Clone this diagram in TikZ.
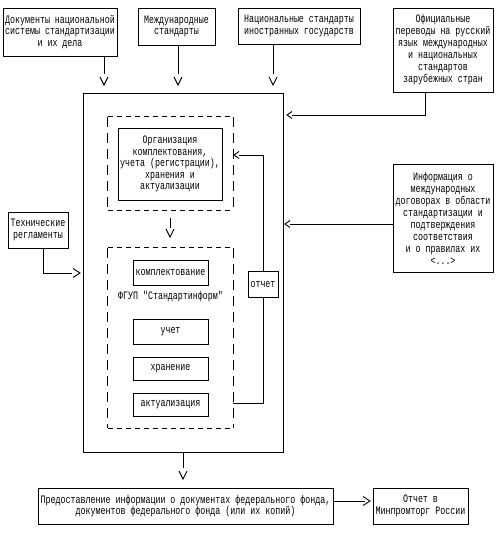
\documentclass[tikz,border=0pt]{standalone}
\usepackage{fontspec}
\newfontfamily\px{Liberation Mono}[FakeStretch=0.73]
\begin{document}
\begin{tikzpicture}[x=1pt,y=-1pt,
  ln/.style={line width=0.9pt},
  box/.style={draw, line width=0.9pt, inner sep=0pt, align=center,
    font=\px\fontsize{11.4}{11.5}\selectfont},
  box12/.style={box, font=\px\fontsize{11.4}{12}\selectfont},
  frame/.style={inner sep=0pt},
  dh/.style={ln, dash pattern=on 5pt off 4pt},
  dv/.style={ln, dash pattern=on 10pt off 6pt},
  lbl/.style={inner sep=0pt, font=\px\fontsize{11.4}{11.5}\selectfont},
  vdown/.pic={\draw[ln] (-4,-8) -- (0,0) -- (4,-8);},
  vleft/.pic={\draw[ln] (5,-3.5) -- (0,0) -- (5,3.5);},
  vright/.pic={\draw[ln] (-7,-4.5) -- (0,0) -- (-7,4.5);}
]
\useasboundingbox (0,0) rectangle (501,535);
\fill[white] (0,0) rectangle (501,535);

% top row
\node[box, minimum width=114pt, minimum height=48pt] (b1) at (60,32)
  {Документы национальной\\системы стандартизации\\и их дела};
\node[box, minimum width=77pt, minimum height=37pt] (b2) at (176.5,26.5)
  {Международные\\стандарты};
\node[box, minimum width=122pt, minimum height=36pt] (b3) at (299,26)
  {Национальные стандарты\\иностранных государств};
\node[box12, minimum width=100pt, minimum height=84pt] (b4) at (443,50)
  {Официальные\\переводы на русский\\язык международных\\и национальных\\стандартов\\зарубежных стран};

% main frame
\node[draw, ln, inner sep=0pt, minimum width=200pt, minimum height=359pt] (main) at (183,272.5) {};

% upper dashed group
\node[frame, minimum width=125pt, minimum height=93pt] (d1) at (170.5,163.5) {};
\draw[dh] (d1.north west) -- (d1.north east);
\draw[dh] (d1.south west) -- (d1.south east);
\draw[dv] (d1.north west) -- (d1.south west);
\draw[dv] (d1.north east) -- (d1.south east);
\node[box, minimum width=104pt, minimum height=72pt] (org) at (170,164)
  {Организация\\комплектования,\\учета (регистрации),\\хранения и\\актуализации};

% lower dashed group
\node[frame, minimum width=125pt, minimum height=180pt] (d2) at (170.5,338) {};
\draw[dh] (d2.north west) -- (d2.north east);
\draw[dh] (d2.south west) -- (d2.south east);
\draw[dv] (d2.north west) -- (d2.south west);
\draw[dv] (d2.north east) -- (d2.south east);
\node[box, minimum width=75pt, minimum height=25pt] (k) at (170.5,272.5) {комплектование};
\node[lbl] (fg) at (170.5,297) {ФГУП "Стандартинформ"};
\node[box, minimum width=75pt, minimum height=25pt] (u) at (170.5,331.5) {учет};
\node[box, minimum width=75pt, minimum height=23pt] (h) at (170.5,368.5) {хранение};
\node[box, minimum width=75pt, minimum height=23pt] (a) at (170.5,404.5) {актуализация};

% side boxes
\node[box, minimum width=60pt, minimum height=36pt] (tech) at (38,230)
  {Технические\\регламенты};
\node[box12, minimum width=100pt, minimum height=108pt] (info) at (443,218)
  {Информация о\\международных\\договорах в области\\стандартизации и\\подтверждения\\соответствия\\и о правилах их\\<...>};

% bottom row
\node[box, minimum width=295pt, minimum height=36pt] (bb) at (185.5,506)
  {Предоставление информации о документах федерального фонда,\\документов федерального фонда (или их копий)};
\node[box, minimum width=95pt, minimum height=36pt] (rb) at (420.5,506)
  {Отчет в\\Минпромторг России};

% connectors: top boxes to main frame
\coordinate (e1) at (104,74);
\draw[ln] (b1.south -| e1) -- (e1);
\pic at (104,85) {vdown};
\coordinate (e2) at (178,74);
\draw[ln] (b2.south -| e2) -- (e2);
\pic at (178,85) {vdown};
\coordinate (e3) at (273,74);
\draw[ln] (b3.south -| e3) -- (e3);
\pic at (273,85) {vdown};
\coordinate (t4) at (425,115);
\coordinate (e4) at (292,115);
\draw[ln] (b4.south -| t4) -- (t4) -- (e4);
\pic at (287,115) {vleft};

% info to main
\coordinate (e5) at (290,224);
\draw[ln] (info.west |- e5) -- (e5);
\pic at (285,224) {vleft};

% tech to main
\coordinate (t6) at (43,273);
\coordinate (e6) at (72,273);
\draw[ln] (tech.south -| t6) -- (t6) -- (e6);
\pic at (80,273) {vright};

% d1 to d2
\coordinate (e7) at (170,228);
\draw[ln, shorten <=8pt] (d1.south -| e7) -- (e7);
\pic at (170,237) {vdown};

% feedback loop with report
\coordinate (f1) at (263,403);
\coordinate (f2) at (263,155);
\coordinate (e8) at (239,155);
\draw[ln] (d2.east |- f1) -- (f1) -- (f2) -- (e8);
\pic at (234,155) {vleft};
\node[box, fill=white, minimum width=30pt, minimum height=26pt] (ot) at (263,284) {отчет};

% main to bottom
\coordinate (e9) at (183,468);
\draw[ln] (main.south) -- (e9);
\pic at (183,479) {vdown};
\coordinate (e10) at (365,501);
\draw[ln] (bb.east |- e10) -- (e10);
\pic at (370,501) {vright};
\end{tikzpicture}
\end{document}
